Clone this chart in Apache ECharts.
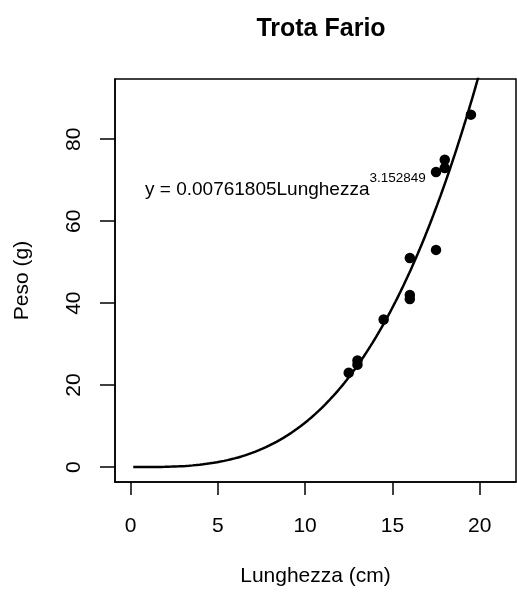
<!DOCTYPE html>
<html>
<head>
<meta charset="utf-8">
<script src="https://cdn.jsdelivr.net/npm/echarts@6/dist/echarts.min.js"></script>
<style>
html,body{margin:0;padding:0;background:#fff;}
#chart{width:517px;height:592px;}
</style>
</head>
<body>
<div id="chart"></div>
<script>
// Observed data: Lunghezza (cm) and Peso (g)
var lunghezza = [12.5, 13, 13, 14.5, 16, 16, 16, 17.5, 17.5, 18, 18, 19.5];
var peso      = [23, 25, 26, 36, 41, 42, 51, 53, 72, 73, 75, 86];
// Fitted power model y = a * x^b (coefficients as printed on the chart)
var coefA = 0.00761805;
var coefB = 3.152849;
var xTicks = [0, 5, 10, 15, 20];
var yTicks = [0, 20, 40, 60, 80];
var curveStart = 0.16, curveEnd = 20, curveStep = 0.1;

var points = lunghezza.map(function (x, i) { return [x, peso[i]]; });
var curve = [];
for (var x = curveStart; x <= curveEnd + 1e-9; x += curveStep) {
  curve.push([x, coefA * Math.pow(x, coefB)]);
}

var font = 'Liberation Sans, Arial, sans-serif';
var chart = echarts.init(document.getElementById('chart'));
chart.setOption({
  backgroundColor: '#fff',
  animation: false,
  title: {
    text: 'Trota Fario',
    left: 316, top: 12, textAlign: 'center',
    textStyle: { fontFamily: font, fontSize: 25, fontWeight: 'bold', color: '#000' }
  },
  grid: {
    left: 115, top: 79, width: 401, height: 405,
    show: true, borderColor: '#000', borderWidth: 1.5, backgroundColor: 'transparent'
  },
  xAxis: {
    type: 'value', min: -0.886, max: 22.08,
    name: 'Lunghezza (cm)', nameLocation: 'middle', nameGap: 84,
    nameTextStyle: { fontFamily: font, fontSize: 21, color: '#000' },
    axisLine: { show: true, onZero: false, lineStyle: { color: '#000', width: 1.5 } },
    splitLine: { show: false },
    axisTick: { show: true, inside: false, length: 13, customValues: xTicks,
      lineStyle: { color: '#000', width: 1.5 } },
    axisLabel: { customValues: xTicks, margin: 34, fontFamily: font, fontSize: 21, color: '#000' }
  },
  yAxis: {
    type: 'value', min: -3.64, max: 94.7,
    name: 'Peso (g)', nameLocation: 'middle', nameGap: 82, nameRotate: 90,
    nameTextStyle: { fontFamily: font, fontSize: 21, color: '#000' },
    axisLine: { show: true, onZero: false, lineStyle: { color: '#000', width: 1.5 } },
    splitLine: { show: false },
    axisTick: { show: true, inside: false, length: 15, customValues: yTicks,
      lineStyle: { color: '#000', width: 1.5 } },
    axisLabel: { customValues: yTicks, rotate: 90, margin: 30, fontFamily: font, fontSize: 21, color: '#000' }
  },
  graphic: [{
    type: 'text', left: 145, top: 171, z: 10,
    style: {
      rich: {
        m: { fontFamily: font, fontSize: 19, fill: '#000', verticalAlign: 'bottom', lineHeight: 28 },
        s: { fontFamily: font, fontSize: 13.5, fill: '#000', verticalAlign: 'top', lineHeight: 28 }
      },
      text: '{m|y = 0.00761805Lunghezza}{s|3.152849}'
    }
  }],
  series: [{
    type: 'line', data: curve, showSymbol: false, symbol: 'none', smooth: false,
    lineStyle: { color: '#000', width: 2.5 }, z: 3
  }, {
    type: 'scatter', data: points, symbol: 'circle', symbolSize: 10.5,
    itemStyle: { color: '#000', opacity: 1 }, z: 4
  }]
});
</script>
</body>
</html>
